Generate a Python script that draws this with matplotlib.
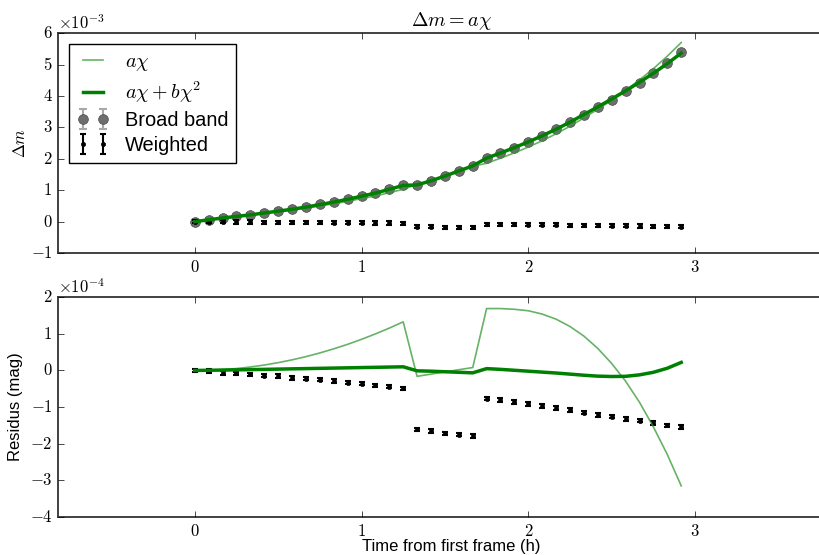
import matplotlib
matplotlib.use("Agg")
import matplotlib.pyplot as plt
from matplotlib.ticker import FuncFormatter

# time of each frame (h)
t_h = [0.0, 0.083, 0.167, 0.25, 0.333, 0.417, 0.5, 0.583, 0.667, 0.75, 0.833, 0.917,
       1.0, 1.083, 1.167, 1.25, 1.333, 1.417, 1.5, 1.583, 1.667, 1.75, 1.833, 1.917,
       2.0, 2.083, 2.167, 2.25, 2.333, 2.417, 2.5, 2.583, 2.667, 2.75, 2.833, 2.917]

# delta m, in 1e-3 mag
broad_band = [0, .065, .12, .17, .22, .28, .34, .40, .47, .55, .63, .72, .82, .92, 1.04, 1.165,
              1.17, 1.30, 1.45, 1.61, 1.77,
              2.03, 2.19, 2.36, 2.54, 2.73, 2.94, 3.16, 3.40, 3.64, 3.89, 4.15, 4.43, 4.72, 5.04, 5.39]
fit_lin = [0, .064, .118, .165, .211, .265, .319, .371, .432, .502, .571, .649, .735, .820, .924, 1.032,
           1.186, 1.31, 1.454, 1.608, 1.762,
           1.861, 2.021, 2.193, 2.377, 2.576, 2.80, 3.04, 3.306, 3.58, 3.871, 4.179, 4.517, 4.874, 5.269, 5.705]
fit_quad = [0, .06, .119, .168, .218, .277, .336, .396, .465, .544, .624, .713, .812, .911, 1.031, 1.155,
            1.171, 1.302, 1.454, 1.615, 1.777,
            2.025, 2.187, 2.36, 2.542, 2.735, 2.947, 3.17, 3.413, 3.656, 3.907, 4.166, 4.442, 4.725, 5.034, 5.368]

# residuals, in 1e-4 mag
res_lin = [0, .006, .024, .053, .094, .148, .213, .289, .378, .478, .59, .714, .85, .997, 1.157, 1.328,
           -.16, -.10, -.04, .02, .08,
           1.69, 1.69, 1.67, 1.63, 1.54, 1.40, 1.20, .94, .60, .19, -.29, -.87, -1.54, -2.29, -3.15]
res_quad = [0, .005, .011, .017, .023, .03, .037, .044, .051, .058, .065, .072, .079, .086, .093, .10,
            -.01, -.02, -.035, -.05, -.065,
            .05, .03, .005, -.02, -.045, -.07, -.10, -.13, -.155, -.165, -.16, -.12, -.05, .06, .22]
weighted = [0, -.02, -.065, -.08, -.11, -.14, -.16, -.2, -.22, -.25, -.29, -.33, -.36, -.41, -.44, -.49,
            -1.61, -1.66, -1.72, -1.75, -1.79,
            -.77, -.81, -.86, -.92, -.97, -1.02, -1.08, -1.15, -1.21, -1.26, -1.32, -1.37, -1.43, -1.50, -1.55]

bb_err = 0.05      # 1e-3 mag
w_err_top = 0.05   # 1e-3 mag
w_err_bot = 0.05   # 1e-4 mag

plt.style.use('classic')
plt.rcParams['font.family'] = ['Liberation Sans', 'DejaVu Sans']
plt.rcParams['mathtext.fontset'] = 'cm'
plt.rcParams['figure.facecolor'] = 'white'
plt.rcParams['savefig.facecolor'] = 'white'

fig = plt.figure(figsize=(8.2, 5.55), dpi=100)
ax1 = fig.add_axes([0.0707, 0.544, 0.96, 0.396])
ax2 = fig.add_axes([0.0707, 0.0685, 0.96, 0.396])

light = (0.2, 0.6, 0.2, 0.75)
math_fmt = FuncFormatter(lambda v, p: r'$%d$' % round(v))

# top panel
bb = ax1.errorbar(t_h, broad_band, yerr=bb_err, fmt='o', color='#6e6e6e', mec='#4a4a4a',
                  ecolor='#a8a8a8', ms=7, capsize=3, elinewidth=1.5, capthick=1.5, zorder=2)
w1 = ax1.errorbar(t_h, [v / 10 for v in weighted], yerr=w_err_top, fmt='o', color='k', ms=3,
                  capsize=2.5, elinewidth=1.5, capthick=1.5, zorder=3)
l1, = ax1.plot(t_h, fit_lin, color=light, lw=1.2, zorder=4)
l2, = ax1.plot(t_h, fit_quad, color='#008000', lw=2.5, zorder=5)
ax1.legend([l1, l2, bb, w1], [r'$a\chi$', r'$a\chi+b\chi^2$', 'Broad band', 'Weighted'],
           loc='upper left', handlelength=1.6, fontsize=14.4, labelspacing=0.3,
           borderaxespad=0.55)
ax1.set_ylim(-1, 6)
ax1.set_title(r'$\Delta m = a\chi$', fontsize=14.4)
ax1.set_ylabel(r'$\Delta m$', fontsize=12, labelpad=2)
ax1.text(0.0, 1.005, r'$\times10^{-3}$', transform=ax1.transAxes, fontsize=12, va='bottom')

# bottom panel
ax2.errorbar(t_h, weighted, yerr=w_err_bot, fmt='o', color='k', ms=3,
             capsize=2.5, elinewidth=1.5, capthick=1.5, zorder=3)
ax2.plot(t_h, res_lin, color=light, lw=1.2, zorder=4)
ax2.plot(t_h, res_quad, color='#008000', lw=2.5, zorder=5)
ax2.set_ylim(-4, 2)
ax2.set_ylabel('Residus (mag)', fontsize=12)
ax2.set_xlabel('Time from first frame (h)', fontsize=12, labelpad=0)
ax2.text(0.0, 1.005, r'$\times10^{-4}$', transform=ax2.transAxes, fontsize=12, va='bottom')

for ax in (ax1, ax2):
    ax.set_xlim(-0.82, 3.9)
    ax.set_xticks([0, 1, 2, 3])
    ax.set_yticks(range(int(ax.get_ylim()[0]), int(ax.get_ylim()[1]) + 1))
    ax.xaxis.set_major_formatter(math_fmt)
    ax.yaxis.set_major_formatter(math_fmt)
    ax.tick_params(labelsize=12, right=False)
    for s in ax.spines.values():
        s.set_linewidth(1.3)
        s.set_color('#333333')
    # right edge of the axes falls outside the picture
    ax.spines['right'].set_visible(False)

fig.savefig('out.png', dpi=100)
